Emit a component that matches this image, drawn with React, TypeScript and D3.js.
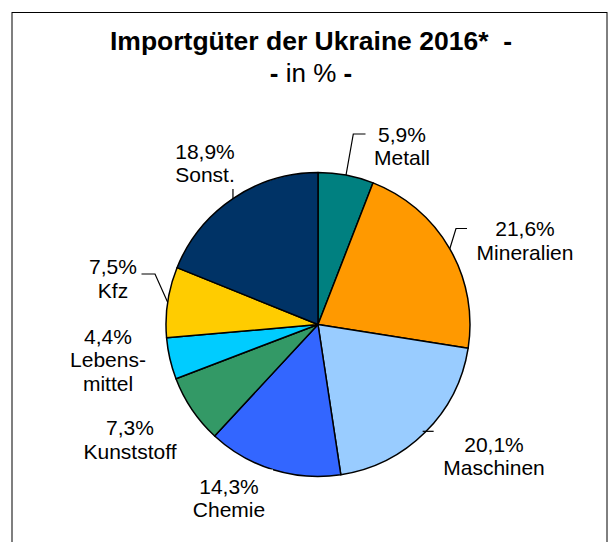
import React from "react";
import * as d3 from "d3";

const categories = ["Metall", "Mineralien", "Maschinen", "Chemie", "Kunststoff", "Lebensmittel", "Kfz", "Sonst."];
const values = [5.9, 21.6, 20.1, 14.3, 7.3, 4.4, 7.5, 18.9];
const nameLines = [["Metall"], ["Mineralien"], ["Maschinen"], ["Chemie"], ["Kunststoff"], ["Lebens-", "mittel"], ["Kfz"], ["Sonst."]];
const colors = ["#008080", "#FF9900", "#99CCFF", "#3366FF", "#339966", "#00CCFF", "#FFCC00", "#003366"];

const W = 614;
const H = 542;
const CX = 318;
const CY = 324.5;
const R = 152;

// label anchor (x centre, first baseline) per slice – layout only
const labelPos: [number, number][] = [
  [402, 141.5],
  [525, 236],
  [494, 451.5],
  [229, 493.5],
  [130, 435],
  [108, 343.5],
  [113, 274],
  [205, 158.5],
];

// leader elbows after the edge point (layout only); null = no leader
const leaderPts: ([number, number][] | null)[] = [
  [[353.3, 134], [365.5, 134]],
  [[456, 228.5], [467, 228.5]],
  null,
  null,
  null,
  null,
  [[155, 274], [141.5, 274]],
  [[0, -9.5]],
];

export default function App() {
  const pie = d3.pie<number>().sort(null).value((d) => d).startAngle(0).endAngle(2 * Math.PI);
  const arcs = pie(values);
  const arc = d3.arc<d3.PieArcDatum<number>>().innerRadius(0).outerRadius(R);
  const fmt = (v: number) => v.toFixed(1).replace(".", ",") + "%";
  const edge = (a: d3.PieArcDatum<number>) => {
    const m = (a.startAngle + a.endAngle) / 2;
    return [CX + R * Math.sin(m), CY - R * Math.cos(m)] as [number, number];
  };

  return (
    <svg
      width={W}
      height={H}
      style={{ position: "fixed", left: 0, top: 0, background: "#fff" }}
      fontFamily="'Liberation Sans', Arial, sans-serif"
    >
      <rect x={0} y={0} width={W} height={H} fill="#fff" />
      <rect x={12} y={12.5} width={595} height={600} fill="#fff" stroke="#000" strokeWidth={1} />
      <text x={311} y={49.5} textAnchor="middle" fontSize={26.5} fontWeight="bold" style={{ whiteSpace: "pre" }}>
        {"Importgüter der Ukraine 2016*  -"}
      </text>
      <text x={311} y={81.7} textAnchor="middle" fontSize={26} style={{ whiteSpace: "pre" }}>
        <tspan fontWeight="bold">{"- "}</tspan>
        <tspan>{"in % "}</tspan>
        <tspan fontWeight="bold">{"-"}</tspan>
      </text>
      <g transform={`translate(${CX},${CY})`}>
        {arcs.map((a, i) => (
          <path key={categories[i]} d={arc(a) || ""} fill={colors[i]} stroke="#000" strokeWidth={1.5} strokeLinejoin="round" />
        ))}
      </g>
      {/* label background of Chemie overlapping the pie edge */}
      <rect x={185} y={469.5} width={88} height={52} fill="#fff" />
      {arcs.map((a, i) => {
        const p = leaderPts[i];
        const e = edge(a);
        if (categories[i] === "Maschinen") {
          return <line key={"l" + i} x1={e[0] - 2.5} y1={e[1] - 1} x2={e[0] + 8.5} y2={e[1] - 1} stroke="#000" strokeWidth={1.2} />;
        }
        if (!p) return null;
        let pts: [number, number][];
        if (p.length === 1 && p[0][0] === 0) pts = [e, [e[0], e[1] + p[0][1]]];
        else pts = [e, ...p];
        return <path key={"l" + i} d={d3.line()(pts) || ""} fill="none" stroke="#000" strokeWidth={1.2} />;
      })}
      {arcs.map((a, i) => {
        const [x, y] = labelPos[i];
        const lines = [fmt(values[i]), ...nameLines[i]];
        return (
          <text key={"t" + i} x={x} y={y} textAnchor="middle" fontSize={21} fill="#000">
            {lines.map((l, j) => (
              <tspan key={j} x={x} y={y + j * 23.7}>
                {l}
              </tspan>
            ))}
          </text>
        );
      })}
    </svg>
  );
}
